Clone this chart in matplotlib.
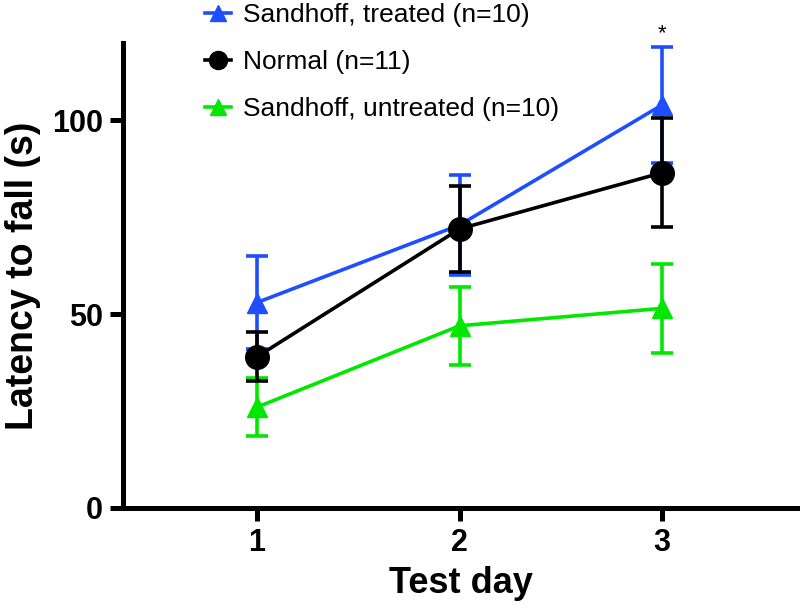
import matplotlib
matplotlib.use("Agg")
import matplotlib.pyplot as plt
from matplotlib.lines import Line2D

days = [1, 2, 3]
treated_mean = [53, 73, 104]
treated_err = [12, 13, 15]
normal_mean = [39, 72, 86.5]
normal_err = [6.3, 11, 14]
untreated_mean = [26, 47, 51.5]
untreated_err = [7.5, 10, 11.5]
labels = ["Sandhoff, treated (n=10)", "Normal (n=11)", "Sandhoff, untreated (n=10)"]
xticks = [1, 2, 3]
yticks = [0, 50, 100]

blue = "#1E4EFF"
green = "#00E800"

plt.rcParams['font.family'] = ['Liberation Sans', 'DejaVu Sans']
fig = plt.figure(figsize=(8, 6.12), dpi=100)
ax = fig.add_axes([0.154, 0.17, 0.8435, 0.76])

common = dict(lw=2.6, elinewidth=2.6, capsize=8, capthick=2.6)
ax.errorbar(days, untreated_mean, yerr=untreated_err, color=green, marker='^', ms=14, zorder=2, **common)
ax.errorbar(days, treated_mean, yerr=treated_err, color=blue, marker='^', ms=14, zorder=3, **common)
ax.errorbar(days, normal_mean, yerr=normal_err, color='black', marker='o', ms=17, zorder=4, **common)

ax.text(3, treated_mean[2] + treated_err[2] + 0.6, "*", ha='center', va='bottom', fontsize=16)

ax.set_xlim(0.34, 3.67)
ax.set_ylim(0, 120)
ax.set_xticks(xticks)
ax.set_yticks(yticks)
for s in ['top', 'right']:
    ax.spines[s].set_visible(False)
for s in ['left', 'bottom']:
    ax.spines[s].set_linewidth(3.6)
ax.tick_params(axis='both', direction='out', length=9.5, width=3.6, labelsize=22, pad=5)
for lab in ax.get_xticklabels() + ax.get_yticklabels():
    lab.set_fontweight('bold')
ax.set_xlabel("Test day", fontsize=26, fontweight='bold', labelpad=6)
ax.set_ylabel("Latency to fall (s)", fontsize=27, fontweight='bold', labelpad=8)

handles = [Line2D([], [], color=blue, marker='^', ms=11, lw=2.6),
           Line2D([], [], color='black', marker='o', ms=13, lw=2.6),
           Line2D([], [], color=green, marker='^', ms=11, lw=2.6)]
fig.legend(handles, labels, loc='upper left', bbox_to_anchor=(0.233, 1.025),
           frameon=False, fontsize=19, handlelength=1.0, handletextpad=0.45,
           labelspacing=0.87, borderpad=0.2)

fig.savefig("out.png", dpi=100)
